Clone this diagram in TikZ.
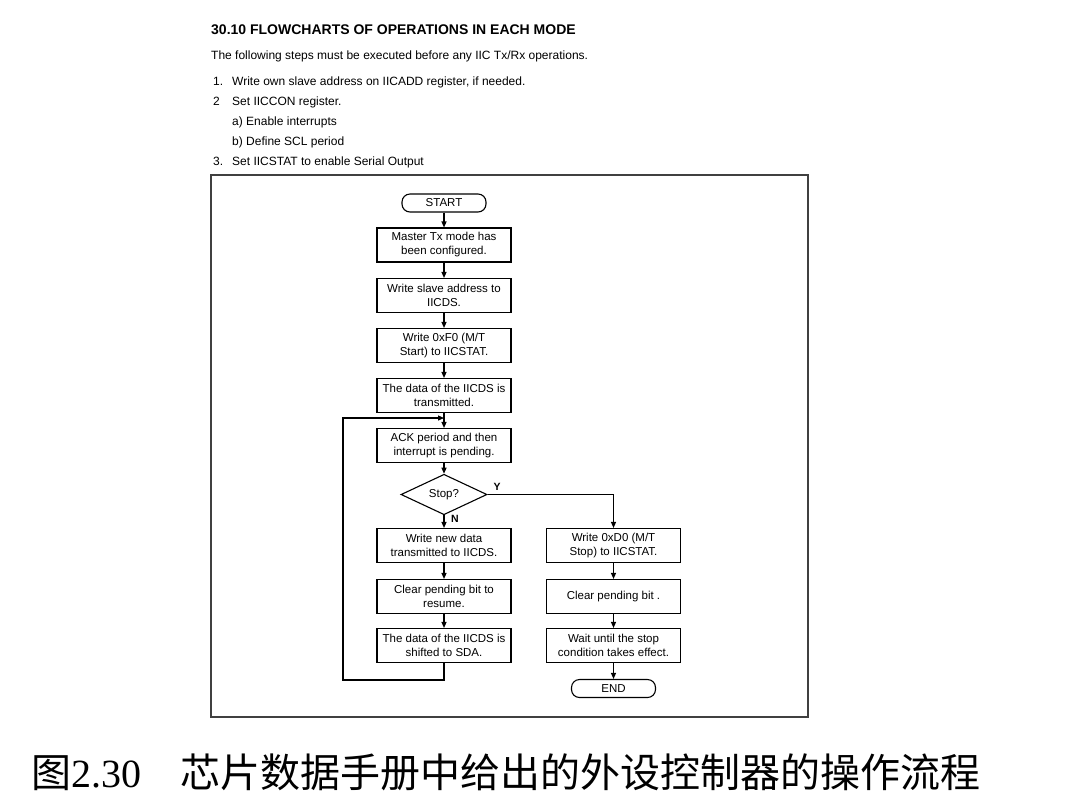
\documentclass[tikz,border=0pt]{standalone}
\usepackage{fontspec}
\setmainfont{Liberation Sans}
\newfontfamily\cjkfont{Noto Sans CJK SC}
\newfontfamily\zifferfont{Liberation Serif}
\usetikzlibrary{arrows.meta}
\usetikzlibrary{shapes.geometric}
\usetikzlibrary{positioning}

\tikzset{
  kasten/.style={draw, line width=1.1pt, minimum width=134pt, minimum height=34pt,
    inner sep=1pt, align=center, font=\fontsize{11.5}{14}\selectfont},
  pille/.style={draw, line width=1.1pt, rounded corners=8pt, minimum width=84pt,
    minimum height=18pt, inner sep=0pt, font=\fontsize{11.5}{14}\selectfont},
  raute/.style={draw, diamond, line width=1.1pt, minimum width=86pt, minimum height=34pt,
    inner sep=0pt, font=\fontsize{11.5}{14}\selectfont},
  pfeil/.style={line width=1.1pt, -{Triangle[width=5pt,length=6pt]}},
  kopf/.style={anchor=base west, inner sep=0pt, font=\fontsize{12}{14}\selectfont},
  marke/.style={inner sep=0pt, font=\bfseries\fontsize{10.5}{12}\selectfont}
}

\begin{document}
\begin{tikzpicture}[x=1pt, y=-1pt] % Pixelkoordinaten, y nach unten
\useasboundingbox (0,0) rectangle (1075,807);
% Kopftext
    \node[kopf, font=\bfseries\fontsize{14}{16}\selectfont] (titel) at (211,34) {30.10 FLOWCHARTS OF OPERATIONS IN EACH MODE};
    \node[kopf] (intro) at (211,59) {The following steps must be executed before any IIC Tx/Rx operations.};
    \node[kopf] (n1) at (213,85) {1.};
    \node[kopf] (s1) at (232,85) {Write own slave address on IICADD register, if needed.};
    \node[kopf] (n2) at (213,105) {2};
    \node[kopf] (s2) at (232,105) {Set IICCON register.};
    \node[kopf] (s2a) at (232,125) {a) Enable interrupts};
    \node[kopf] (s2b) at (232,145) {b) Define SCL period};
    \node[kopf] (n3) at (213,165) {3.};
    \node[kopf] (s3) at (232,165) {Set IICSTAT to enable Serial Output};
% Rahmen
    \draw[line width=1.8pt, black!75] (211,175) rectangle (808,717);
% linke Spalte
    \node[pille] (start) at (444,203) {START};
    \node[kasten] (b1) at (444,245) {Master Tx mode has\\been configured.};
    \node[kasten] (b2) at (444,295.5) {Write slave address to\\IICDS.};
    \node[kasten] (b3) at (444,345.5) {Write 0xF0 (M/T\\Start) to IICSTAT.};
    \node[kasten] (b4) at (444,395.5) {The data of the IICDS is\\transmitted.};
    \node[kasten] (b5) at (444,445.5) {ACK period and then\\interrupt is pending.};
    \node[raute] (stop) at (444,494.5) {Stop?};
    \node[kasten] (l1) at (444,545.5) {Write new data\\transmitted to IICDS.};
    \node[kasten] (l2) at (444,596.5) {Clear pending bit to\\resume.};
    \node[kasten] (l3) at (444,645.5) {The data of the IICDS is\\shifted to SDA.};
% rechte Spalte
    \node[kasten] (r1) at (613.5,545.5) {Write 0xD0 (M/T\\Stop) to IICSTAT.};
    \node[kasten] (r2) at (613.5,596.5) {Clear pending bit .};
    \node[kasten] (r3) at (613.5,645.5) {Wait until the stop\\condition takes effect.};
    \node[pille] (ende) at (613.5,688.5) {END};
% Verbindungen
    \draw[pfeil] (start) -- (b1);
    \draw[pfeil] (b1) -- (b2);
    \draw[pfeil] (b2) -- (b3);
    \draw[pfeil] (b3) -- (b4);
    \draw[pfeil] (b4) -- (b5);
    \draw[pfeil] (b5) -- (stop);
    \draw[pfeil] (stop) -- (l1);
    \draw[pfeil] (l1) -- (l2);
    \draw[pfeil] (l2) -- (l3);
    \draw[pfeil] (stop.east) -| (r1.north);
    \draw[pfeil] (r1) -- (r2);
    \draw[pfeil] (r2) -- (r3);
    \draw[pfeil] (r3) -- (ende);
    % Schleife zurueck
    \coordinate (ecke) at (343,680);
    \coordinate (einmuendung) at (444,418);
    \draw[pfeil] (l3.south) |- (ecke) |- (einmuendung);
    \node[marke] (ja) at (497,487) {Y};
    \node[marke] (nein) at (455,519) {N};
% Bildunterschrift
    \node[anchor=base west, inner sep=0pt] (bildnr) at (31,787)
        {\fontsize{40}{44}\selectfont\cjkfont 图\zifferfont 2.30};
    \node[anchor=base west, inner sep=0pt] (bildtext) at (180,787)
        {\fontsize{40}{44}\selectfont\cjkfont 芯片数据手册中给出的外设控制器的操作流程};
\end{tikzpicture}
\end{document}
